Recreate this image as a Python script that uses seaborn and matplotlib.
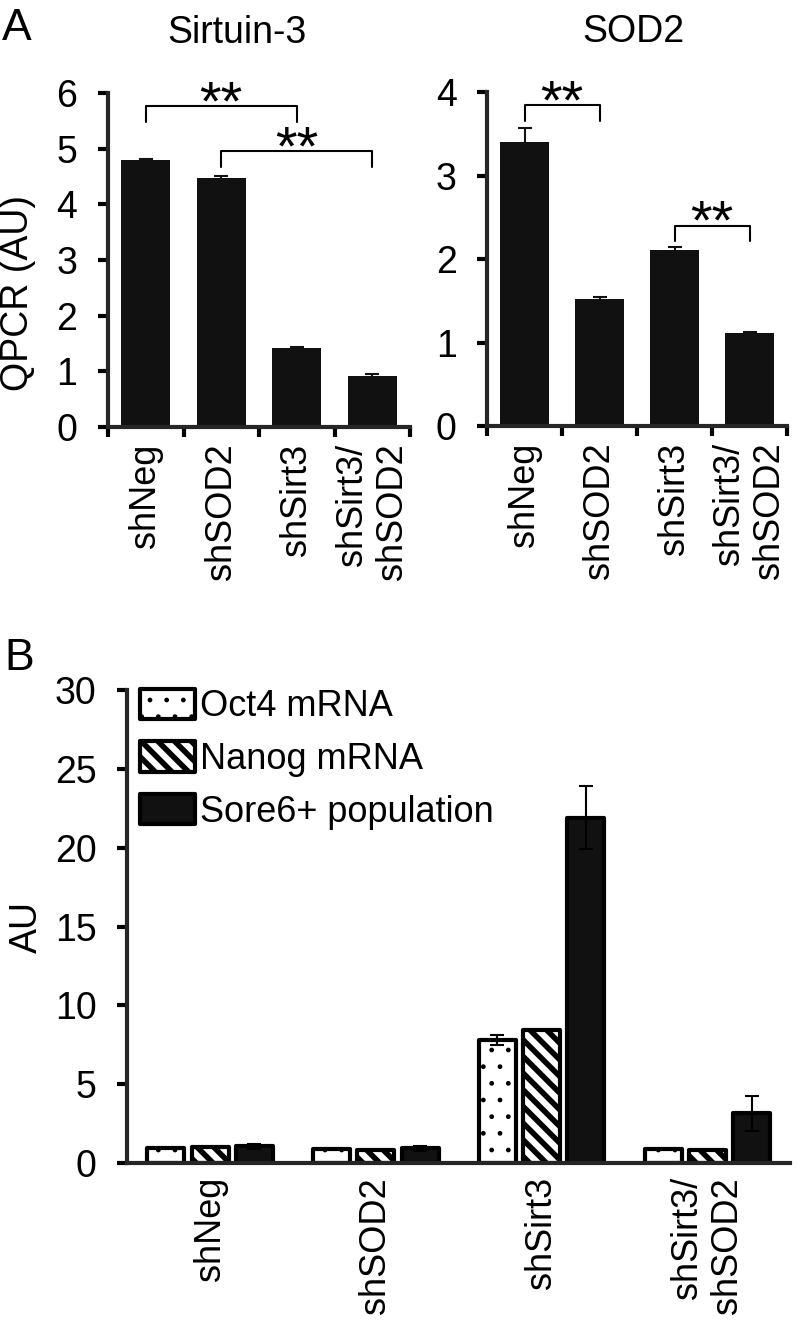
import pandas as pd
import matplotlib.pyplot as plt
import seaborn as sns
from matplotlib.patches import Patch

# --- 데이터 ---
groups = ['shNeg', 'shSOD2', 'shSirt3', 'shSirt3/\nshSOD2']

# A: QPCR (AU)
sirt3_mean = [4.80, 4.47, 1.42, 0.92]
sirt3_err = [0.02, 0.04, 0.02, 0.04]
sod2_mean = [3.40, 1.52, 2.11, 1.12]
sod2_err = [0.17, 0.03, 0.03, 0.01]

# 유의성 표시 (왼쪽 막대, 오른쪽 막대, 가로선 높이, 세로선 끝)
sirt3_brackets = [(0, 2, 5.76, 5.48), (1, 3, 4.96, 4.67)]
sod2_brackets = [(0, 1, 3.84, 3.65), (2, 3, 2.40, 2.22)]

# B: AU
series = ['Oct4 mRNA', 'Nanog mRNA', 'Sore6+ population']
oct4_mean = [0.98, 0.88, 7.8, 0.86]
oct4_err = [0.0, 0.0, 0.3, 0.0]
nanog_mean = [1.0, 0.85, 8.45, 0.83]
nanog_err = [0.0, 0.0, 0.0, 0.0]
sore6_mean = [1.05, 0.93, 21.9, 3.15]
sore6_err = [0.15, 0.15, 2.0, 1.1]

sns.set_style('ticks')
plt.rcParams['font.family'] = ['Liberation Sans', 'DejaVu Sans']
plt.rcParams['axes.linewidth'] = 3
plt.rcParams['hatch.linewidth'] = 4
plt.rcParams['text.color'] = 'black'
plt.rcParams['axes.labelcolor'] = 'black'
plt.rcParams['xtick.color'] = 'black'
plt.rcParams['ytick.color'] = 'black'

fig = plt.figure(figsize=(8, 13.21), dpi=100)
ax1 = fig.add_axes([0.135, 0.6768, 0.3775, 0.2528])
ax2 = fig.add_axes([0.609, 0.6775, 0.375, 0.2528])
ax3 = fig.add_axes([0.159, 0.1196, 0.829, 0.358])


def style_y(ax, ymax, step):
    ax.set_ylim(0, ymax)
    ax.set_yticks(range(0, ymax + 1, step))
    ax.tick_params(axis='y', length=7, width=3, pad=15, labelsize=27)
    ax.spines[['top', 'right']].set_visible(False)


def qpcr_panel(ax, means, errs, ymax, title, title_x, brackets):
    df = pd.DataFrame({'group': groups, 'value': means})
    sns.barplot(data=df, x='group', y='value', color='#111111', width=0.65,
                saturation=1, errorbar=None, linewidth=0, ax=ax)
    bars = ax.containers[0]
    xs = [p.get_x() + p.get_width() / 2 for p in bars]
    ax.errorbar(xs, means, yerr=errs, fmt='none', ecolor='#111111',
                elinewidth=1.5, capsize=5, capthick=1.5)

    ax.set_xlim(-0.5, 3.5)
    style_y(ax, ymax, 1)
    # 막대 사이 경계에 눈금
    ax.set_xticks([i - 0.5 for i in range(5)], minor=True)
    ax.tick_params(axis='x', which='minor', length=7, width=3)
    ax.tick_params(axis='x', which='major', length=0, pad=12, labelsize=26)
    for t in ax.get_xticklabels():
        t.set_rotation(90)
        t.set_va('top')
        t.set_ha('center')
        t.set_multialignment('right')
    ax.set_xlabel('')
    ax.set_ylabel('')
    ax.set_title(title, x=title_x, pad=36, fontsize=27)

    for x0, x1, y, y_end in brackets:
        ax.plot([x0, x0, x1, x1], [y_end, y, y, y_end], color='black',
                lw=1.5, clip_on=False)
        ax.annotate('**', xy=((x0 + x1) / 2, y), xytext=(0, -9.5),
                    textcoords='offset points', ha='center', va='baseline',
                    fontsize=40, annotation_clip=False)


qpcr_panel(ax1, sirt3_mean, sirt3_err, 6, 'Sirtuin-3', 0.427, sirt3_brackets)
qpcr_panel(ax2, sod2_mean, sod2_err, 4, 'SOD2', 0.487, sod2_brackets)
ax1.set_ylabel('QPCR (AU)', fontsize=27)
ax1.yaxis.set_label_coords(-0.24, 0.40)

# --- B ---
b_df = pd.DataFrame({
    'group': groups * 3,
    'series': [s for s in series for _ in groups],
    'value': oct4_mean + nanog_mean + sore6_mean,
})
palette = {series[0]: 'white', series[1]: 'white', series[2]: '#111111'}
sns.barplot(data=b_df, x='group', y='value', hue='series', hue_order=series,
            palette=palette, width=0.8, gap=0.16, saturation=1, errorbar=None,
            edgecolor='black', linewidth=3, legend=False, ax=ax3)

hatches = ['.', '\\\\', '']
for cont, hatch, errs in zip(ax3.containers, hatches, [oct4_err, nanog_err, sore6_err]):
    xs, hs = [], []
    for p in cont:
        p.set_hatch(hatch)
        p.set_joinstyle('round')
        if hatch == '.' and hasattr(p, 'set_hatch_linewidth'):
            p.set_hatch_linewidth(1)
        xs.append(p.get_x() + p.get_width() / 2)
        hs.append(p.get_height())
    ax3.errorbar(xs, hs, yerr=errs, fmt='none', ecolor='black',
                 elinewidth=1.5, capsize=5, capthick=1.5)

ax3.set_xlim(-0.5, 3.5)
style_y(ax3, 30, 5)
ax3.tick_params(axis='x', length=0, pad=10, labelsize=26)
for t in ax3.get_xticklabels():
    t.set_rotation(90)
    t.set_va('top')
    t.set_ha('center')
    t.set_multialignment('right')
ax3.set_xlabel('')
ax3.set_ylabel('AU', fontsize=27)
ax3.yaxis.set_label_coords(-0.124, 0.5)

handles = []
for i, s in enumerate(series):
    h = Patch(facecolor=palette[s], edgecolor='black', hatch=hatches[i],
              linewidth=3, joinstyle='round', label=s)
    handles.append(h)
leg = ax3.legend(handles=handles, loc='upper left', bbox_to_anchor=(0.02, 1.003),
                 frameon=False, fontsize=26, handlelength=1.5, handleheight=0.92,
                 handletextpad=0.15, labelspacing=0.47, borderpad=0,
                 borderaxespad=0)
for lh, hatch in zip(leg.legend_handles, hatches):
    lh.set_joinstyle('round')
    if hasattr(lh, 'set_hatch_linewidth'):
        lh.set_hatch_linewidth(1 if hatch == '.' else 4)

# 패널 라벨
fig.text(0.003, 1 - 8 / 1321, 'A', fontsize=32, va='top', ha='left')
fig.text(0.005, 1 - 638 / 1321, 'B', fontsize=32, va='top', ha='left')

fig.savefig('out.png', dpi=100)
